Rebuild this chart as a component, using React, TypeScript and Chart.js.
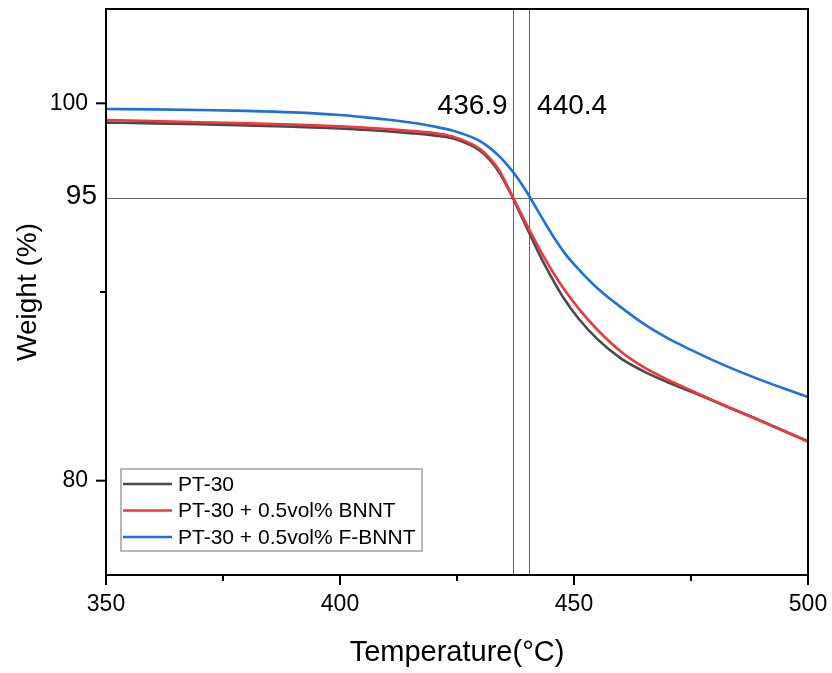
import React, { useEffect, useRef } from 'react';
import { Chart, registerables } from 'chart.js';

Chart.register(...registerables);

const temperature = [350, 360, 370, 380, 390, 400, 405, 410, 415, 420, 424, 428, 430, 432, 434, 436, 438, 440, 442, 444, 446, 448, 451, 455, 460, 465, 470, 475, 480, 485, 490, 495, 500];
const pt30 = [98.98, 98.94, 98.89, 98.83, 98.76, 98.67, 98.6, 98.52, 98.42, 98.3, 98.15, 97.78, 97.48, 97.0, 96.35, 95.45, 94.42, 93.35, 92.3, 91.32, 90.42, 89.6, 88.58, 87.5, 86.48, 85.78, 85.22, 84.72, 84.2, 83.68, 83.17, 82.62, 82.07];
const pt30Bnnt = [99.12, 99.06, 99.0, 98.94, 98.87, 98.78, 98.72, 98.64, 98.54, 98.42, 98.24, 97.86, 97.56, 97.1, 96.46, 95.5, 94.5, 93.52, 92.57, 91.68, 90.85, 90.1, 89.12, 88.0, 86.85, 86.0, 85.35, 84.78, 84.23, 83.69, 83.15, 82.62, 82.1];
const pt30FBnnt = [99.7, 99.68, 99.65, 99.6, 99.52, 99.38, 99.27, 99.14, 98.98, 98.78, 98.56, 98.22, 97.98, 97.64, 97.2, 96.66, 96.02, 95.26, 94.42, 93.58, 92.78, 92.06, 91.2, 90.2, 89.2, 88.3, 87.55, 86.93, 86.35, 85.82, 85.33, 84.87, 84.44];

const seriesNames = ['PT-30', 'PT-30 + 0.5vol% BNNT', 'PT-30 + 0.5vol% F-BNNT'];
const seriesColors = ['#4a4a4a', '#f0373c', '#1f6fe0'];

const xMajorTicks = [350, 400, 450, 500];
const xMinorTicks = [375, 425, 475];
const yMajorTicks = [80, 100];
const yMinorTicks = [90];

const onsetTemps = [436.9, 440.4];
const onsetLabels = ['436.9', '440.4'];
const onsetLabelWeight = 99.85;
const refWeight = 95;
const refLabel = '95';

const FONT = '"Liberation Sans", Arial, Helvetica, sans-serif';

export default function App() {
  const canvasRef = useRef<HTMLCanvasElement | null>(null);

  useEffect(() => {
    const canvas = canvasRef.current;
    if (!canvas) return;

    const line = (ctx: CanvasRenderingContext2D, x1: number, y1: number, x2: number, y2: number) => {
      ctx.beginPath();
      ctx.moveTo(x1, y1);
      ctx.lineTo(x2, y2);
      ctx.stroke();
    };

    const overlay = {
      id: 'overlay',
      beforeDatasetsDraw(chart: any) {
        const { ctx, chartArea: a, scales } = chart;
        const x = scales.x;
        const y = scales.y;
        ctx.save();
        ctx.strokeStyle = '#666666';
        ctx.lineWidth = 1;
        const yy = Math.round(y.getPixelForValue(refWeight)) + 0.5;
        line(ctx, a.left, yy, a.right, yy);
        onsetTemps.forEach((t) => {
          const xx = Math.round(x.getPixelForValue(t)) + 0.5;
          line(ctx, xx, a.top, xx, a.bottom);
        });
        ctx.restore();
      },
      afterDraw(chart: any) {
        const { ctx, chartArea: a, scales } = chart;
        const x = scales.x;
        const y = scales.y;
        ctx.save();
        // frame
        ctx.strokeStyle = '#000';
        ctx.lineWidth = 2;
        ctx.strokeRect(a.left, a.top, a.right - a.left, a.bottom - a.top);
        // ticks
        xMajorTicks.forEach((v) => {
          const p = x.getPixelForValue(v);
          line(ctx, p, a.bottom, p, a.bottom + 10);
        });
        xMinorTicks.forEach((v) => {
          const p = x.getPixelForValue(v);
          line(ctx, p, a.bottom, p, a.bottom + 6);
        });
        yMajorTicks.forEach((v) => {
          const p = y.getPixelForValue(v);
          line(ctx, a.left - 10, p, a.left, p);
        });
        yMinorTicks.forEach((v) => {
          const p = y.getPixelForValue(v);
          line(ctx, a.left - 6, p, a.left, p);
        });
        // annotations
        ctx.fillStyle = '#000';
        ctx.font = `28px ${FONT}`;
        ctx.textBaseline = 'middle';
        const ay = y.getPixelForValue(onsetLabelWeight);
        ctx.textAlign = 'right';
        ctx.fillText(onsetLabels[0], x.getPixelForValue(onsetTemps[0]) - 5, ay);
        ctx.textAlign = 'left';
        ctx.fillText(onsetLabels[1], x.getPixelForValue(onsetTemps[1]) + 8, ay);
        ctx.textAlign = 'right';
        ctx.fillText(refLabel, a.left - 9, y.getPixelForValue(refWeight) - 1);
        // legend
        const lx = a.left + 15;
        const ly = a.bottom - 106;
        ctx.strokeStyle = '#a0a0a0';
        ctx.lineWidth = 1.5;
        ctx.strokeRect(lx, ly, 301, 82);
        ctx.font = `21px ${FONT}`;
        ctx.textAlign = 'left';
        seriesNames.forEach((name, i) => {
          const ry = ly + 15 + i * 26.5;
          ctx.strokeStyle = seriesColors[i];
          ctx.lineWidth = 2.5;
          line(ctx, lx + 2, ry, lx + 51, ry);
          ctx.fillStyle = '#000';
          ctx.fillText(name, lx + 57, ry + 1);
        });
        ctx.restore();
      },
    };

    const seriesValues = [pt30, pt30Bnnt, pt30FBnnt];
    const datasets = seriesNames.map((name, i) => ({
      label: name,
      data: temperature.map((t, j) => ({ x: t, y: seriesValues[i][j] })),
      borderColor: seriesColors[i],
      backgroundColor: seriesColors[i],
      borderWidth: 2.6,
      pointRadius: 0,
      fill: false,
      cubicInterpolationMode: 'monotone' as const,
      order: 3 - i,
    }));

    const chart = new Chart(canvas, {
      type: 'line',
      data: { datasets },
      plugins: [overlay],
      options: {
        responsive: false,
        animation: false,
        layout: { padding: { top: 9, right: 24, left: 0, bottom: 0 } },
        plugins: { legend: { display: false }, tooltip: { enabled: false } },
        scales: {
          x: {
            type: 'linear',
            min: 350,
            max: 500,
            afterBuildTicks: (s: any) => {
              s.ticks = xMajorTicks.map((v) => ({ value: v }));
            },
            afterFit: (s: any) => {
              s.height = 98;
              s.paddingLeft = 0;
              s.paddingRight = 0;
            },
            ticks: {
              font: { size: 23, family: FONT },
              color: '#000',
              padding: 16,
              maxRotation: 0,
              autoSkip: false,
            },
            grid: { display: false, drawTicks: false },
            border: { display: false },
            title: {
              display: true,
              text: 'Temperature(°C)',
              color: '#000',
              font: { size: 29, family: FONT },
              padding: { top: 0, bottom: 3 },
            },
          },
          y: {
            type: 'linear',
            min: 75,
            max: 105,
            afterBuildTicks: (s: any) => {
              s.ticks = yMajorTicks.map((v) => ({ value: v }));
            },
            afterFit: (s: any) => {
              s.width = 106;
              s.paddingTop = 0;
              s.paddingBottom = 0;
            },
            ticks: {
              font: { size: 23, family: FONT },
              color: '#000',
              padding: 18,
              autoSkip: false,
            },
            grid: { display: false, drawTicks: false },
            border: { display: false },
            title: {
              display: true,
              text: 'Weight (%)',
              color: '#000',
              font: { size: 28, family: FONT },
              padding: { top: 11, bottom: 0 },
            },
          },
        },
      },
    });

    return () => chart.destroy();
  }, []);

  return (
    <div style={{ position: 'fixed', left: 0, top: 0, width: 832, height: 673, background: '#fff' }}>
      <canvas ref={canvasRef} width={832} height={673} style={{ width: 832, height: 673, display: 'block' }} />
    </div>
  );
}
